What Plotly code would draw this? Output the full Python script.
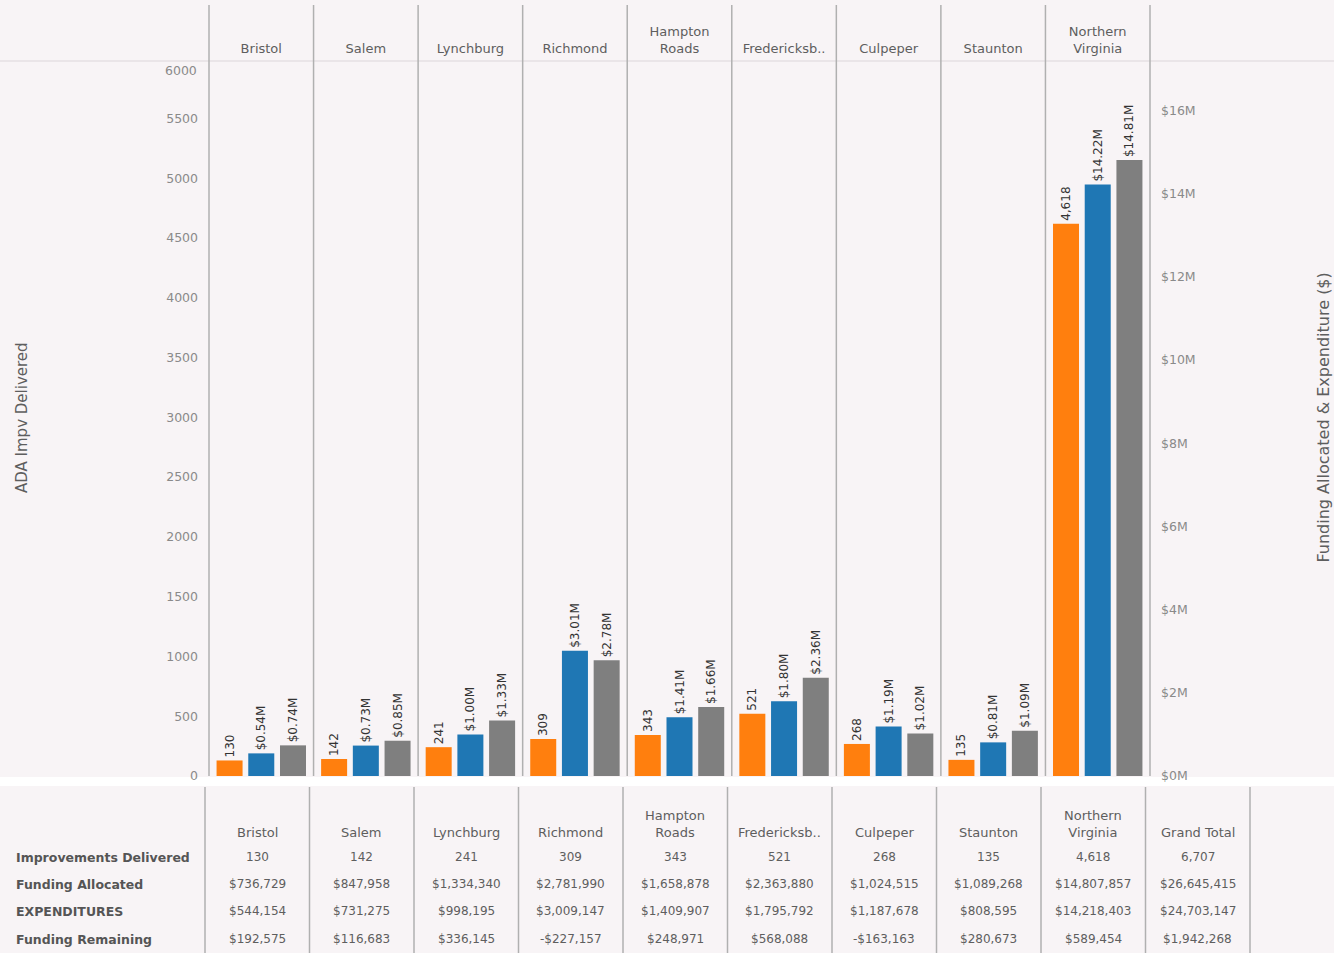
import plotly.graph_objects as go

# ---------------- data ----------------
districts = ["Bristol", "Salem", "Lynchburg", "Richmond", "Hampton Roads",
             "Fredericksb..", "Culpeper", "Staunton", "Northern Virginia"]
header_labels = ["Bristol", "Salem", "Lynchburg", "Richmond", "Hampton<br>Roads",
                 "Fredericksb..", "Culpeper", "Staunton", "Northern<br>Virginia"]
improvements = [130, 142, 241, 309, 343, 521, 268, 135, 4618]
funding_allocated = [736729, 847958, 1334340, 2781990, 1658878, 2363880, 1024515, 1089268, 14807857]
expenditures = [544154, 731275, 998195, 3009147, 1409907, 1795792, 1187678, 808595, 14218403]
funding_remaining = [192575, 116683, 336145, -227157, 248971, 568088, -163163, 280673, 589454]
grand_total = {"improvements": 6707, "allocated": 26645415, "expenditures": 24703147, "remaining": 1942268}

left_ticks = [0, 500, 1000, 1500, 2000, 2500, 3000, 3500, 4000, 4500, 5000, 5500]
right_ticks = [0, 2e6, 4e6, 6e6, 8e6, 10e6, 12e6, 14e6, 16e6]
right_tick_text = ["$0M", "$2M", "$4M", "$6M", "$8M", "$10M", "$12M", "$14M", "$16M"]
row_labels = ["Improvements Delivered", "Funding Allocated", "EXPENDITURES", "Funding Remaining"]

# ---------------- style ----------------
ORANGE, BLUE, GREY = "#ff7f0e", "#1f77b4", "#7f7f7f"
BG = "#f8f4f6"
LINE = "#b0b0b0"
TXT = "#5e5e5e"
TICK = "#8a8a8a"
FONT = "DejaVu Sans"

W_FIG, H_FIG = 1334, 953
L, T, W, H = 209, 61, 941, 715


def px(x):
    return (x - L) / W


def py(y):
    return (T + H - y) / H


def money(v):
    return ("-$" if v < 0 else "$") + f"{abs(v):,}"


label_font = dict(size=12, color="#333333", family=FONT)

fig = go.Figure()
fig.add_trace(go.Bar(
    x=districts, y=improvements, yaxis="y", offsetgroup="a", name="Improvements Delivered",
    marker=dict(color=ORANGE, line=dict(width=0)),
    text=[f"{v:,}" for v in improvements], textposition="outside", textangle=-90,
    constraintext="none", textfont=label_font, cliponaxis=False))
fig.add_trace(go.Bar(
    x=districts, y=expenditures, yaxis="y2", offsetgroup="b", name="EXPENDITURES",
    marker=dict(color=BLUE, line=dict(width=0)),
    text=[f"${v/1e6:.2f}M" for v in expenditures], textposition="outside", textangle=-90,
    constraintext="none", textfont=label_font, cliponaxis=False))
fig.add_trace(go.Bar(
    x=districts, y=funding_allocated, yaxis="y2", offsetgroup="c", name="Funding Allocated",
    marker=dict(color=GREY, line=dict(width=0)),
    text=[f"${v/1e6:.2f}M" for v in funding_allocated], textposition="outside", textangle=-90,
    constraintext="none", textfont=label_font, cliponaxis=False))

shapes = []
annotations = []

# white strip between chart and table
shapes.append(dict(type="rect", xref="paper", yref="paper", x0=px(0), x1=px(W_FIG),
                   y0=py(786), y1=py(777), fillcolor="white", line=dict(width=0), layer="below"))
# header separator line
shapes.append(dict(type="line", xref="paper", yref="paper", x0=px(0), x1=px(W_FIG),
                   y0=py(61), y1=py(61), line=dict(color="#dcd6da", width=1)))
# panel dividers (chart)
n = len(districts)
for k in range(n + 1):
    shapes.append(dict(type="line", xref="x domain", yref="paper", x0=k / n, x1=k / n,
                       y0=py(776), y1=py(5), line=dict(color=LINE, width=1.5)))

# ---------------- table ----------------
cols = districts + ["Grand Total"]
col_headers = header_labels + ["Grand Total"]
col_left, col_w = 205, 104.5
for k in range(len(cols) + 1):
    xx = col_left + k * col_w
    shapes.append(dict(type="line", xref="paper", yref="paper", x0=px(xx), x1=px(xx),
                       y0=py(953), y1=py(787), line=dict(color=LINE, width=1.5)))

rows_data = [
    [f"{v:,}" for v in improvements] + [f"{grand_total['improvements']:,}"],
    [money(v) for v in funding_allocated] + [money(grand_total["allocated"])],
    [money(v) for v in expenditures] + [money(grand_total["expenditures"])],
    [money(v) for v in funding_remaining] + [money(grand_total["remaining"])],
]
row_y = [857, 884, 911, 939]

for i, h in enumerate(col_headers):
    cx = col_left + (i + 0.5) * col_w
    annotations.append(dict(xref="paper", yref="paper", x=px(cx), y=py(842), text=h,
                            showarrow=False, xanchor="center", yanchor="bottom",
                            font=dict(size=13, color=TXT, family=FONT)))
for r, lab in enumerate(row_labels):
    annotations.append(dict(xref="paper", yref="paper", x=px(14), y=py(row_y[r]),
                            text=f"<b>{lab}</b>",
                            showarrow=False, xanchor="left", yanchor="middle",
                            font=dict(size=12.5, color="#555555", family=FONT)))
    for i, val in enumerate(rows_data[r]):
        cx = col_left + (i + 0.5) * col_w
        annotations.append(dict(xref="paper", yref="paper", x=px(cx), y=py(row_y[r]), text=val,
                                showarrow=False, xanchor="center", yanchor="middle",
                                font=dict(size=12, color=TXT, family=FONT)))

# axis titles
annotations.append(dict(xref="paper", yref="paper", x=px(22), y=py(418),
                        text="ADA Impv Delivered", textangle=-90, showarrow=False,
                        xanchor="center", yanchor="middle",
                        font=dict(size=15, color=TXT, family=FONT)))
annotations.append(dict(xref="paper", yref="paper", x=px(1334), y=py(418),
                        text="Funding Allocated & Expenditure ($)", textangle=-90, showarrow=False,
                        xanchor="right", yanchor="middle",
                        font=dict(size=16, color=TXT, family=FONT)))
# top tick of left axis (drawn inside like the original)
annotations.append(dict(xref="paper", yref="paper", x=px(199), y=py(70), text="6000",
                        showarrow=False, xanchor="right", yanchor="middle",
                        font=dict(size=12.5, color=TICK, family=FONT)))

fig.update_layout(
    width=W_FIG, height=H_FIG,
    margin=dict(l=L, r=W_FIG - L - W, t=T, b=H_FIG - T - H, pad=0),
    paper_bgcolor=BG, plot_bgcolor=BG,
    barmode="group", bargap=0.09, bargroupgap=0.18,
    showlegend=False,
    font=dict(family=FONT, color=TXT),
    xaxis=dict(type="category", categoryorder="array", categoryarray=districts,
               tickvals=districts, ticktext=header_labels, side="top",
               range=[-0.5, n - 0.5], showgrid=False, zeroline=False, showline=False,
               ticks="", ticklabelstandoff=4,
               tickfont=dict(size=13, color=TXT, family=FONT)),
    yaxis=dict(range=[0, 5980], tickvals=left_ticks, showgrid=False, zeroline=False,
               showline=False, ticks="", ticklabelstandoff=10,
               tickfont=dict(size=12.5, color=TICK, family=FONT)),
    yaxis2=dict(overlaying="y", side="right", range=[0, 17.19e6], tickvals=right_ticks,
                ticktext=right_tick_text, showgrid=False, zeroline=False, showline=False,
                ticks="", ticklabelstandoff=10,
                tickfont=dict(size=12.5, color=TICK, family=FONT)),
    shapes=shapes, annotations=annotations,
)

fig.write_html("out.html")
